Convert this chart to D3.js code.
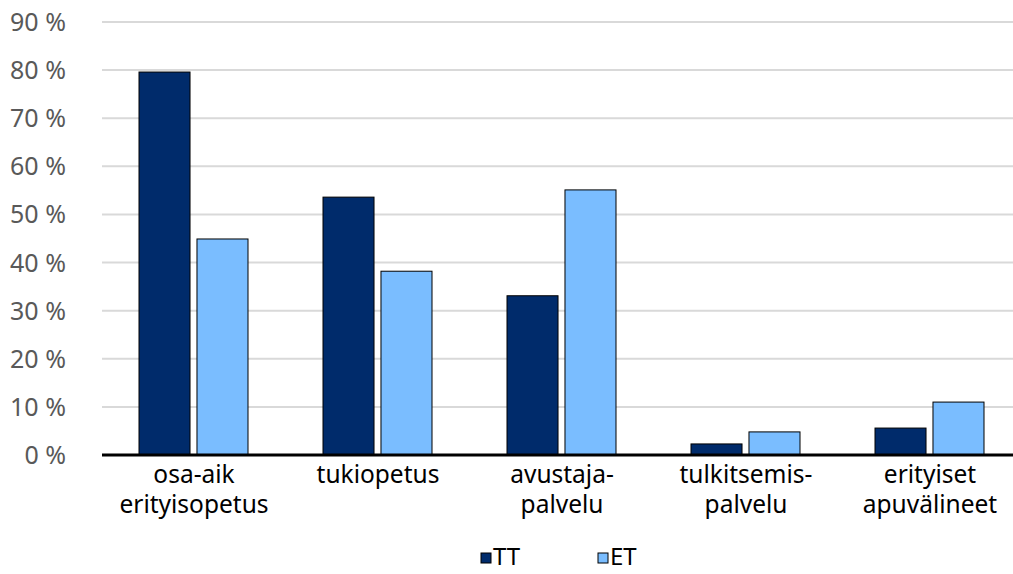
<!DOCTYPE html>
<html lang="fi">
<meta charset="utf-8">
<head>
    <script src="https://d3js.org/d3.v7.min.js"></script>
    <style>
        body { margin: 0; background: #fff; }
        text { font-family: "Noto Sans", "Open Sans", sans-serif; }
    </style>
</head>
<body>
<script>
// categories (two-line labels)
const categories = [
    ["osa-aik", "erityisopetus"],
    ["tukiopetus"],
    ["avustaja-", "palvelu"],
    ["tulkitsemis-", "palvelu"],
    ["erityiset", "apuvälineet"]
];
const seriesNames = ["TT", "ET"];
const valuesTT = [79.6, 53.6, 33.1, 2.3, 5.6];
const valuesET = [44.9, 38.2, 55.1, 4.8, 11.0];
const yTicks = [0, 10, 20, 30, 40, 50, 60, 70, 80, 90];
const colors = ["#002B6B", "#7ABDFF"];

const W = 1013, H = 574;
const margin = {top: 22, right: -9, bottom: 119, left: 102};
const width = W - margin.left - margin.right;
const height = H - margin.top - margin.bottom;

const svg = d3.select("body").append("svg")
    .attr("width", W)
    .attr("height", H);
const g = svg.append("g")
    .attr("transform", "translate(" + margin.left + "," + margin.top + ")");

const x = d3.scaleBand()
    .domain(d3.range(categories.length))
    .range([0, width]);
const x1 = d3.scaleBand()
    .domain(seriesNames)
    .range([x.bandwidth() / 2 - 55, x.bandwidth() / 2 + 54])
    .paddingInner(0.12);
const y = d3.scaleLinear()
    .domain([0, 90])
    .range([height, 0]);

// grid lines
g.append("g")
    .selectAll("line")
    .data(yTicks.slice(1))
    .join("line")
    .attr("x1", 0)
    .attr("x2", width)
    .attr("y1", d => y(d))
    .attr("y2", d => y(d))
    .attr("stroke", "#d9d9d9")
    .attr("stroke-width", 2);

// y labels
g.append("g")
    .selectAll("text")
    .data(yTicks)
    .join("text")
    .attr("x", -36)
    .attr("y", d => y(d))
    .attr("dy", "0.36em")
    .attr("text-anchor", "end")
    .attr("fill", "#595959")
    .attr("font-size", 25)
    .attr("textLength", d => d === 0 ? null : 56)
    .text(d => d + " %");

// bars
const data = categories.map((c, i) => ({i: i, vals: [valuesTT[i], valuesET[i]]}));
const grp = g.append("g")
    .selectAll("g")
    .data(data)
    .join("g")
    .attr("transform", d => "translate(" + x(d.i) + ",0)");
grp.selectAll("rect")
    .data(d => d.vals.map((v, k) => ({key: seriesNames[k], v: v, k: k})))
    .join("rect")
    .attr("x", d => x1(d.key))
    .attr("y", d => y(d.v))
    .attr("width", x1.bandwidth())
    .attr("height", d => height - y(d.v))
    .attr("fill", d => colors[d.k])
    .attr("stroke", "#000")
    .attr("stroke-width", 1);

// baseline
g.append("line")
    .attr("x1", 0)
    .attr("x2", width)
    .attr("y1", height)
    .attr("y2", height)
    .attr("stroke", "#000")
    .attr("stroke-width", 3);

// x labels
const lab = g.append("g")
    .selectAll("text")
    .data(categories)
    .join("text")
    .attr("text-anchor", "middle")
    .attr("font-size", 24.5)
    .attr("fill", "#000")
    .attr("transform", (d, i) => "translate(" + (x(i) + x.bandwidth() / 2) + "," + (height + 28) + ")");
lab.selectAll("tspan")
    .data(d => d)
    .join("tspan")
    .attr("x", 0)
    .attr("y", (d, j) => j * 30)
    .text(d => d);

// legend
const legX = [481, 598];
const leg = svg.append("g")
    .selectAll("g")
    .data(seriesNames)
    .join("g")
    .attr("transform", (d, i) => "translate(" + legX[i] + ",553)");
leg.append("rect")
    .attr("width", 10)
    .attr("height", 10)
    .attr("fill", (d, i) => colors[i])
    .attr("stroke", "#000")
    .attr("stroke-width", 1);
leg.append("text")
    .attr("x", 12)
    .attr("y", 12)
    .attr("font-size", 24)
    .attr("fill", "#000")
    .text(d => d);
</script>
</body>
</html>
